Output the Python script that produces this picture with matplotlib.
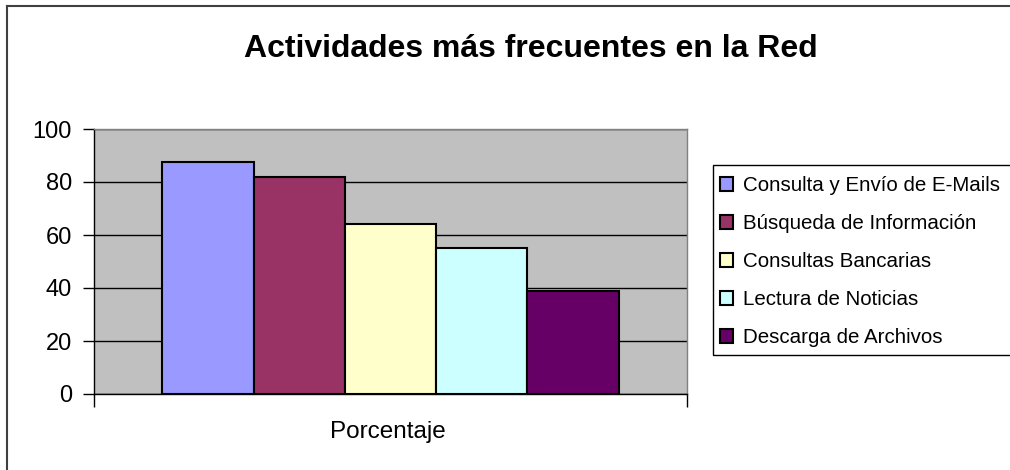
import matplotlib.pyplot as plt
from matplotlib.patches import Rectangle
from matplotlib.lines import Line2D

# datos del gráfico
categorias = [
    "Consulta y Envío de E-Mails",
    "Búsqueda de Información",
    "Consultas Bancarias",
    "Lectura de Noticias",
    "Descarga de Archivos",
]
porcentajes = [87.5, 82, 64, 55, 39]
colores = ["#9999FF", "#993366", "#FFFFCC", "#CCFFFF", "#660066"]
yticks = [0, 20, 40, 60, 80, 100]

plt.rcParams["font.family"] = ["Liberation Sans", "DejaVu Sans"]

W, H = 1010, 470
fig = plt.figure(figsize=(W / 100, H / 100), dpi=100)

# marco exterior del gráfico (solo se ven el borde izquierdo y el superior)
fig.add_artist(Line2D([7 / W, 7 / W], [0, 1 - 6 / H], transform=fig.transFigure,
                      color="#404040", linewidth=1.5))
fig.add_artist(Line2D([7 / W, 1], [1 - 6 / H, 1 - 6 / H], transform=fig.transFigure,
                      color="#404040", linewidth=1.5))

ax = fig.add_axes([94 / W, 1 - 394 / H, (687 - 94) / W, (394 - 129) / H])
ax.set_facecolor("#C0C0C0")

barras = []
for i, (cat, val, col) in enumerate(zip(categorias, porcentajes, colores)):
    b = ax.bar(i, val, width=1.0, color=col, edgecolor="black",
               linewidth=1.5, label=cat, zorder=3)
    barras.append(b)

ax.set_xlim(-1.25, 5.25)
ax.set_ylim(0, 100)
ax.set_yticks(yticks)
ax.set_yticklabels([str(v) for v in yticks], fontsize=17)
ax.tick_params(axis="y", direction="out", length=8, width=1, pad=8)
ax.set_xticks([-1.25, 5.25])
ax.set_xticklabels(["", ""])
ax.tick_params(axis="x", direction="out", length=9, width=1)

ax.grid(axis="y", color="black", linewidth=1, zorder=1)
ax.set_axisbelow(True)

for s in ["left", "bottom"]:
    ax.spines[s].set_color("black")
    ax.spines[s].set_linewidth(1)
for s in ["top", "right"]:
    ax.spines[s].set_color("#808080")
    ax.spines[s].set_linewidth(1)

fig.text(388 / W, 1 - 432 / H, "Porcentaje", fontsize=17.5,
         ha="center", va="center")

fig.text(531 / W, 1 - 49 / H, "Actividades más frecuentes en la Red",
         fontsize=23, fontweight="bold", ha="center", va="center")

# leyenda: sin marco propio, el marco se dibuja aparte y se sale por la derecha
leg = fig.legend(handles=barras, labels=categorias, loc="upper left",
                 bbox_to_anchor=(720 / W, 1 - 176 / H), fontsize=14.8,
                 frameon=False, handlelength=0.65, handleheight=0.65,
                 handletextpad=0.45, labelspacing=0.93, borderpad=0,
                 borderaxespad=0)
fig.add_artist(Rectangle((713 / W, 1 - 355 / H), 0.5, (355 - 165) / H,
                         transform=fig.transFigure, fill=False,
                         edgecolor="black", linewidth=1))

fig.savefig("out.png", dpi=100)
